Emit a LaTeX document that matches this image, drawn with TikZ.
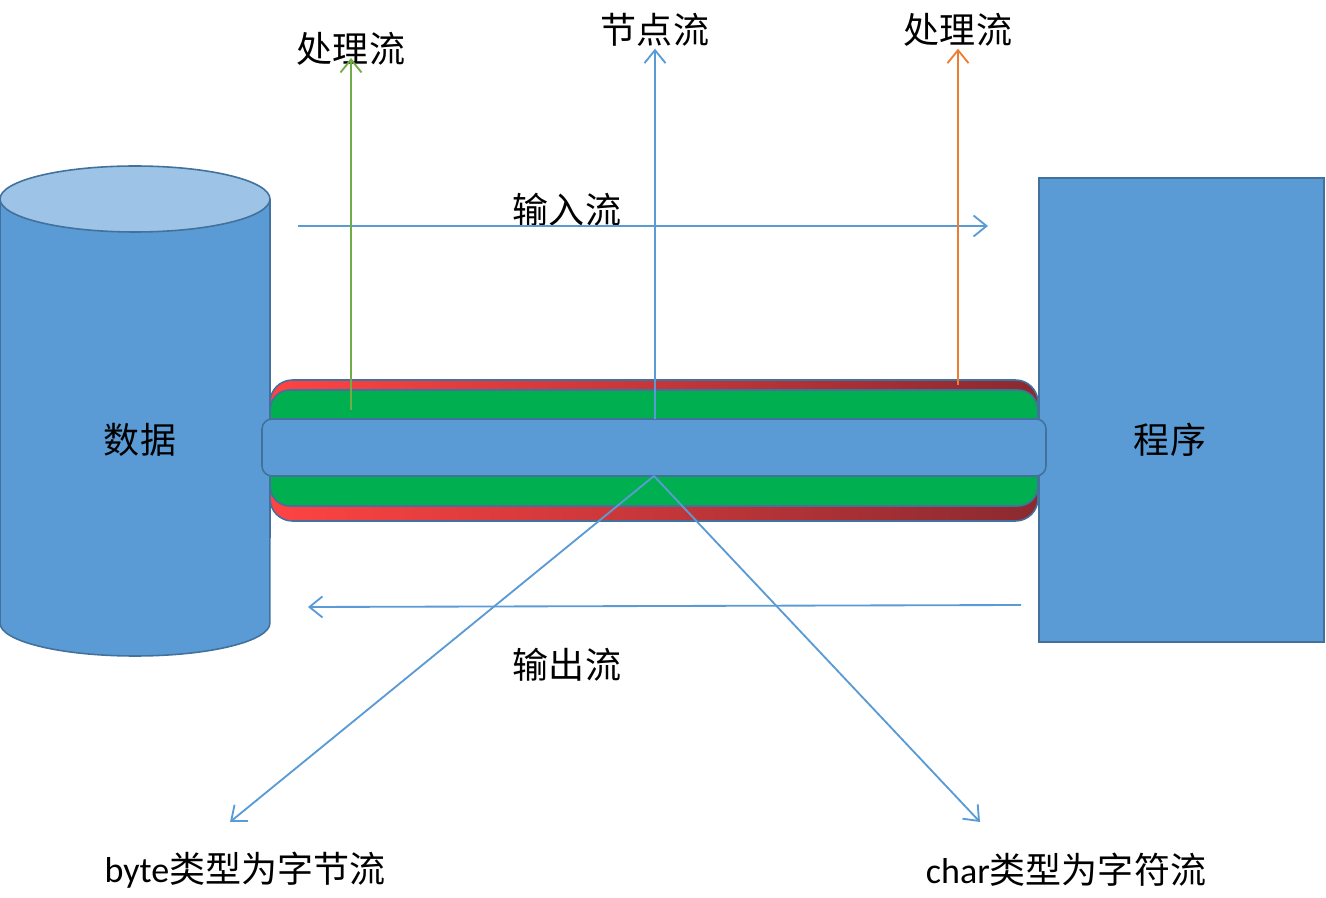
\documentclass[tikz,border=0pt]{standalone}
\usepackage{fontspec}
\setmainfont{Carlito}
\newfontfamily\cjk{Noto Sans CJK SC}
\usetikzlibrary{arrows.meta}

\definecolor{boxblue}{HTML}{5B9BD5}
\definecolor{boxedge}{HTML}{41719C}
\definecolor{toplight}{HTML}{9DC3E6}
\definecolor{pipegreen}{HTML}{00B050}
\definecolor{pipered}{HTML}{FF4343}
\definecolor{pipedark}{HTML}{8A2A30}
\definecolor{procgreen}{HTML}{70AD47}
\definecolor{procorange}{HTML}{ED7D31}

\tikzset{
  shapeedge/.style={draw=boxedge, line width=0.9pt},
  flow/.style={draw=boxblue, line width=1.05pt, -{Straight Barb[length=2.6mm, width=4.2mm]}},
  lbl/.style={inner sep=1pt}
}

\begin{document}
\begin{tikzpicture}[x=0.02cm, y=-0.02cm, font=\fontsize{20.5}{24}\selectfont] % pixel-like units
  \useasboundingbox (0,0) rectangle (1326,898);

  % Data cylinder
  \fill[boxblue] (0,199) -- (0,623)
    arc[start angle=180, end angle=360, x radius=2.7cm, y radius=0.66cm] -- (270,199) -- cycle;
  \draw[shapeedge] (0,199) -- (0,623)
    arc[start angle=180, end angle=360, x radius=2.7cm, y radius=0.66cm] -- (270,199);
  \draw[shapeedge, fill=toplight] (135,199) ellipse[x radius=2.7cm, y radius=0.66cm];
  \node[lbl] (data) at (140,440) {\cjk 数据};

  % Program box
  \draw[shapeedge, fill=boxblue] (1039,178) rectangle (1324,642);
  \node[lbl] (prog) at (1170,440) {\cjk 程序};

  % Pipe (red, green, blue layers)
  \shade[left color=pipered, right color=pipedark, rounded corners=0.45cm]
    (270,380) rectangle (1038,521);
  \draw[shapeedge, rounded corners=0.45cm] (270,380) rectangle (1038,521);
  \draw[shapeedge, fill=pipegreen, rounded corners=0.4cm] (270,390) rectangle (1038,506);
  \draw[shapeedge, fill=boxblue, rounded corners=0.2cm] (262,419) rectangle (1046,476);

  % Anchor points on the pipe
  \coordinate (greenfoot) at (351,410);
  \coordinate (nodefoot) at (655,419);
  \coordinate (orangefoot) at (958,385);
  \coordinate (splitpt) at (654,476);

  % Labels
  \node[lbl] (procA) at (351,49) {\cjk 处理流};
  \node[lbl] (nodeflow) at (655,30) {\cjk 节点流};
  \node[lbl] (procB) at (958,30) {\cjk 处理流};
  \node[lbl] (inlbl) at (567,210) {\cjk 输入流};
  \node[lbl] (outlbl) at (567,665) {\cjk 输出流};
  \node[lbl] (bytelbl) at (245,870) {byte{\cjk 类型为字节流}};
  \node[lbl] (charlbl) at (1066,870) {char{\cjk 类型为字符流}};

  % Input / output flows
  \coordinate (inA) at (298,226);
  \coordinate (inB) at (988,226);
  \coordinate (outA) at (1021,605);
  \coordinate (outB) at (308,607);
  \draw[flow] (inA) -- (inB);
  \draw[flow] (outA) -- (outB);

  % Up arrows
  \draw[flow, draw=procgreen] (greenfoot) -- (351,58);
  \draw[flow] (nodefoot) -- (nodeflow.south);
  \draw[flow, draw=procorange] (orangefoot) -- (procB.south);

  % Split into byte / char
  \coordinate (byteend) at (230,822);
  \coordinate (charend) at (980,822);
  \draw[flow] (splitpt) -- (byteend);
  \draw[flow] (splitpt) -- (charend);
\end{tikzpicture}
\end{document}
